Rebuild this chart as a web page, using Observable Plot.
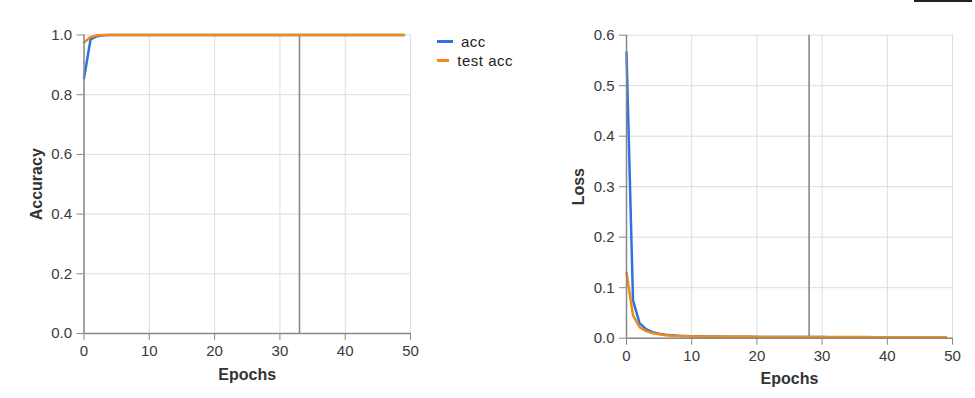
<!DOCTYPE html>
<html>
<head>
<meta charset="utf-8">
<script src="https://cdn.jsdelivr.net/npm/d3@7"></script>
<script src="https://cdn.jsdelivr.net/npm/@observablehq/plot@0.6"></script>
<style>
  html, body { margin: 0; padding: 0; background: #fff; }
  body { width: 975px; height: 398px; position: relative; overflow: hidden; font-family: "Liberation Sans", Arial, sans-serif; }
  .chart { position: absolute; top: 0; }
  .legend { position: absolute; left: 437px; top: 32px; width: 76px; overflow: hidden; font-size: 15px; letter-spacing: 0.5px; color: #222; white-space: nowrap; }
  .legend div { height: 19px; display: flex; align-items: center; }
  .legend span.sw { display: inline-block; width: 16px; height: 3px; margin-right: 8px; }
  .topbar { position: absolute; left: 914px; top: 0; width: 58px; height: 2px; background: #222; }
</style>
</head>
<body>
<div id="left" class="chart" style="left:0"></div>
<div id="right" class="chart" style="left:540px"></div>
<div class="legend" id="legend"></div>
<div class="topbar"></div>
<script>
const epochs = d3.range(0, 50);
const acc = [0.855, 0.985, 0.996, 0.999, 1, 1, 1, 1, 1, 1, 1, 1, 1, 1, 1, 1, 1, 1, 1, 1, 1, 1, 1, 1, 1, 1, 1, 1, 1, 1, 1, 1, 1, 1, 1, 1, 1, 1, 1, 1, 1, 1, 1, 1, 1, 1, 1, 1, 1, 1];
const testAcc = [0.975, 0.993, 0.999, 1, 1, 1, 1, 1, 1, 1, 1, 1, 1, 1, 1, 1, 1, 1, 1, 1, 1, 1, 1, 1, 1, 1, 1, 1, 1, 1, 1, 1, 1, 1, 1, 1, 1, 1, 1, 1, 1, 1, 1, 1, 1, 1, 1, 1, 1, 1];
const loss = [0.566, 0.075, 0.030, 0.018, 0.012, 0.009, 0.007, 0.006, 0.005, 0.0045, 0.004, 0.0038, 0.0036, 0.0034, 0.0032, 0.003, 0.003, 0.0029, 0.0028, 0.0027, 0.0026, 0.0026, 0.0025, 0.0025, 0.0024, 0.0024, 0.0023, 0.0023, 0.0022, 0.0022, 0.0022, 0.0021, 0.0021, 0.0021, 0.002, 0.002, 0.002, 0.002, 0.0019, 0.0019, 0.0019, 0.0019, 0.0018, 0.0018, 0.0018, 0.0018, 0.0018, 0.0017, 0.0017, 0.0017];
const testLoss = [0.130, 0.045, 0.022, 0.014, 0.010, 0.008, 0.006, 0.005, 0.0045, 0.004, 0.0038, 0.0036, 0.0034, 0.0032, 0.003, 0.003, 0.0029, 0.0028, 0.0028, 0.0027, 0.0027, 0.0026, 0.0026, 0.0025, 0.0025, 0.0025, 0.0024, 0.0024, 0.0024, 0.0023, 0.0023, 0.0023, 0.0023, 0.0022, 0.0022, 0.0022, 0.0022, 0.0022, 0.0021, 0.0021, 0.0021, 0.0021, 0.0021, 0.002, 0.002, 0.002, 0.002, 0.002, 0.002, 0.002];
const seriesNames = ["acc", "test acc"];
const colors = ["#2f72e0", "#f28a17"];
const accRule = 33;
const lossRule = 28;
const xTicks = [0, 10, 20, 30, 40, 50];
const accTicks = [0, 0.2, 0.4, 0.6, 0.8, 1.0];
const lossTicks = [0, 0.1, 0.2, 0.3, 0.4, 0.5, 0.6];

function build(values, testValues, yDomain, yTicks, yLabel, rule, opts) {
  const data = [];
  epochs.forEach((e, i) => {
    data.push({epoch: e, value: values[i], series: seriesNames[0]});
  });
  epochs.forEach((e, i) => {
    data.push({epoch: e, value: testValues[i], series: seriesNames[1]});
  });
  return Plot.plot({
    width: opts.width,
    height: 398,
    marginLeft: opts.ml,
    marginRight: opts.mr,
    marginTop: opts.mt,
    marginBottom: opts.mb,
    style: {fontFamily: "'Liberation Sans', Arial, sans-serif", fontSize: "15px", color: "#444", background: "transparent"},
    x: {domain: [0, 50], ticks: xTicks, tickFormat: d3.format("d"), label: null},
    y: {domain: yDomain, ticks: yTicks, tickFormat: d3.format(".1f"), label: null},
    color: {domain: seriesNames, range: colors},
    marks: [
      Plot.gridX(xTicks, {stroke: "#ddd", strokeOpacity: 1}),
      Plot.gridY(yTicks, {stroke: "#ddd", strokeOpacity: 1}),
      Plot.ruleX([rule], {stroke: "#8a8a8a", strokeWidth: 1.6}),
      Plot.line(data, {x: "epoch", y: "value", z: "series", stroke: "series", strokeWidth: 2.5, curve: "linear"}),
      Plot.axisX({ticks: xTicks, tickFormat: d3.format("d"), tickSize: 7, stroke: "#888", fill: "#3a3a3a", fontSize: 15, label: null, tickPadding: 5}),
      Plot.axisY({ticks: yTicks, tickFormat: d3.format(".1f"), tickSize: 7, stroke: "#888", fill: "#3a3a3a", fontSize: 15, label: null, tickPadding: 5}),
      Plot.ruleX([0], {stroke: "#888", strokeWidth: 1.5}),
      Plot.ruleY([yDomain[0]], {stroke: "#888", strokeWidth: 1.5}),
      Plot.text(["Epochs"], {frameAnchor: "bottom", dy: opts.xTitleDy, fontWeight: "bold", fontSize: 16, fill: "#333"}),
      Plot.text([yLabel], {frameAnchor: "left", textAnchor: "middle", dx: opts.yTitleDx, rotate: -90, fontWeight: "bold", fontSize: 16, fill: "#333"})
    ]
  });
}

document.getElementById("left").appendChild(
  build(acc, testAcc, [0, 1], accTicks, "Accuracy", accRule,
        {width: 430, ml: 83.5, mr: 20, mt: 34.5, mb: 65, xTitleDy: 46, yTitleDx: -47})
);
document.getElementById("right").appendChild(
  build(loss, testLoss, [0, 0.6], lossTicks, "Loss", lossRule,
        {width: 435, ml: 86, mr: 23, mt: 34.7, mb: 60.3, xTitleDy: 46, yTitleDx: -48})
);

const legend = document.getElementById("legend");
seriesNames.forEach((name, i) => {
  const row = document.createElement("div");
  const sw = document.createElement("span");
  sw.className = "sw";
  sw.style.background = colors[i];
  row.appendChild(sw);
  row.appendChild(document.createTextNode(name));
  legend.appendChild(row);
});
</script>
</body>
</html>
